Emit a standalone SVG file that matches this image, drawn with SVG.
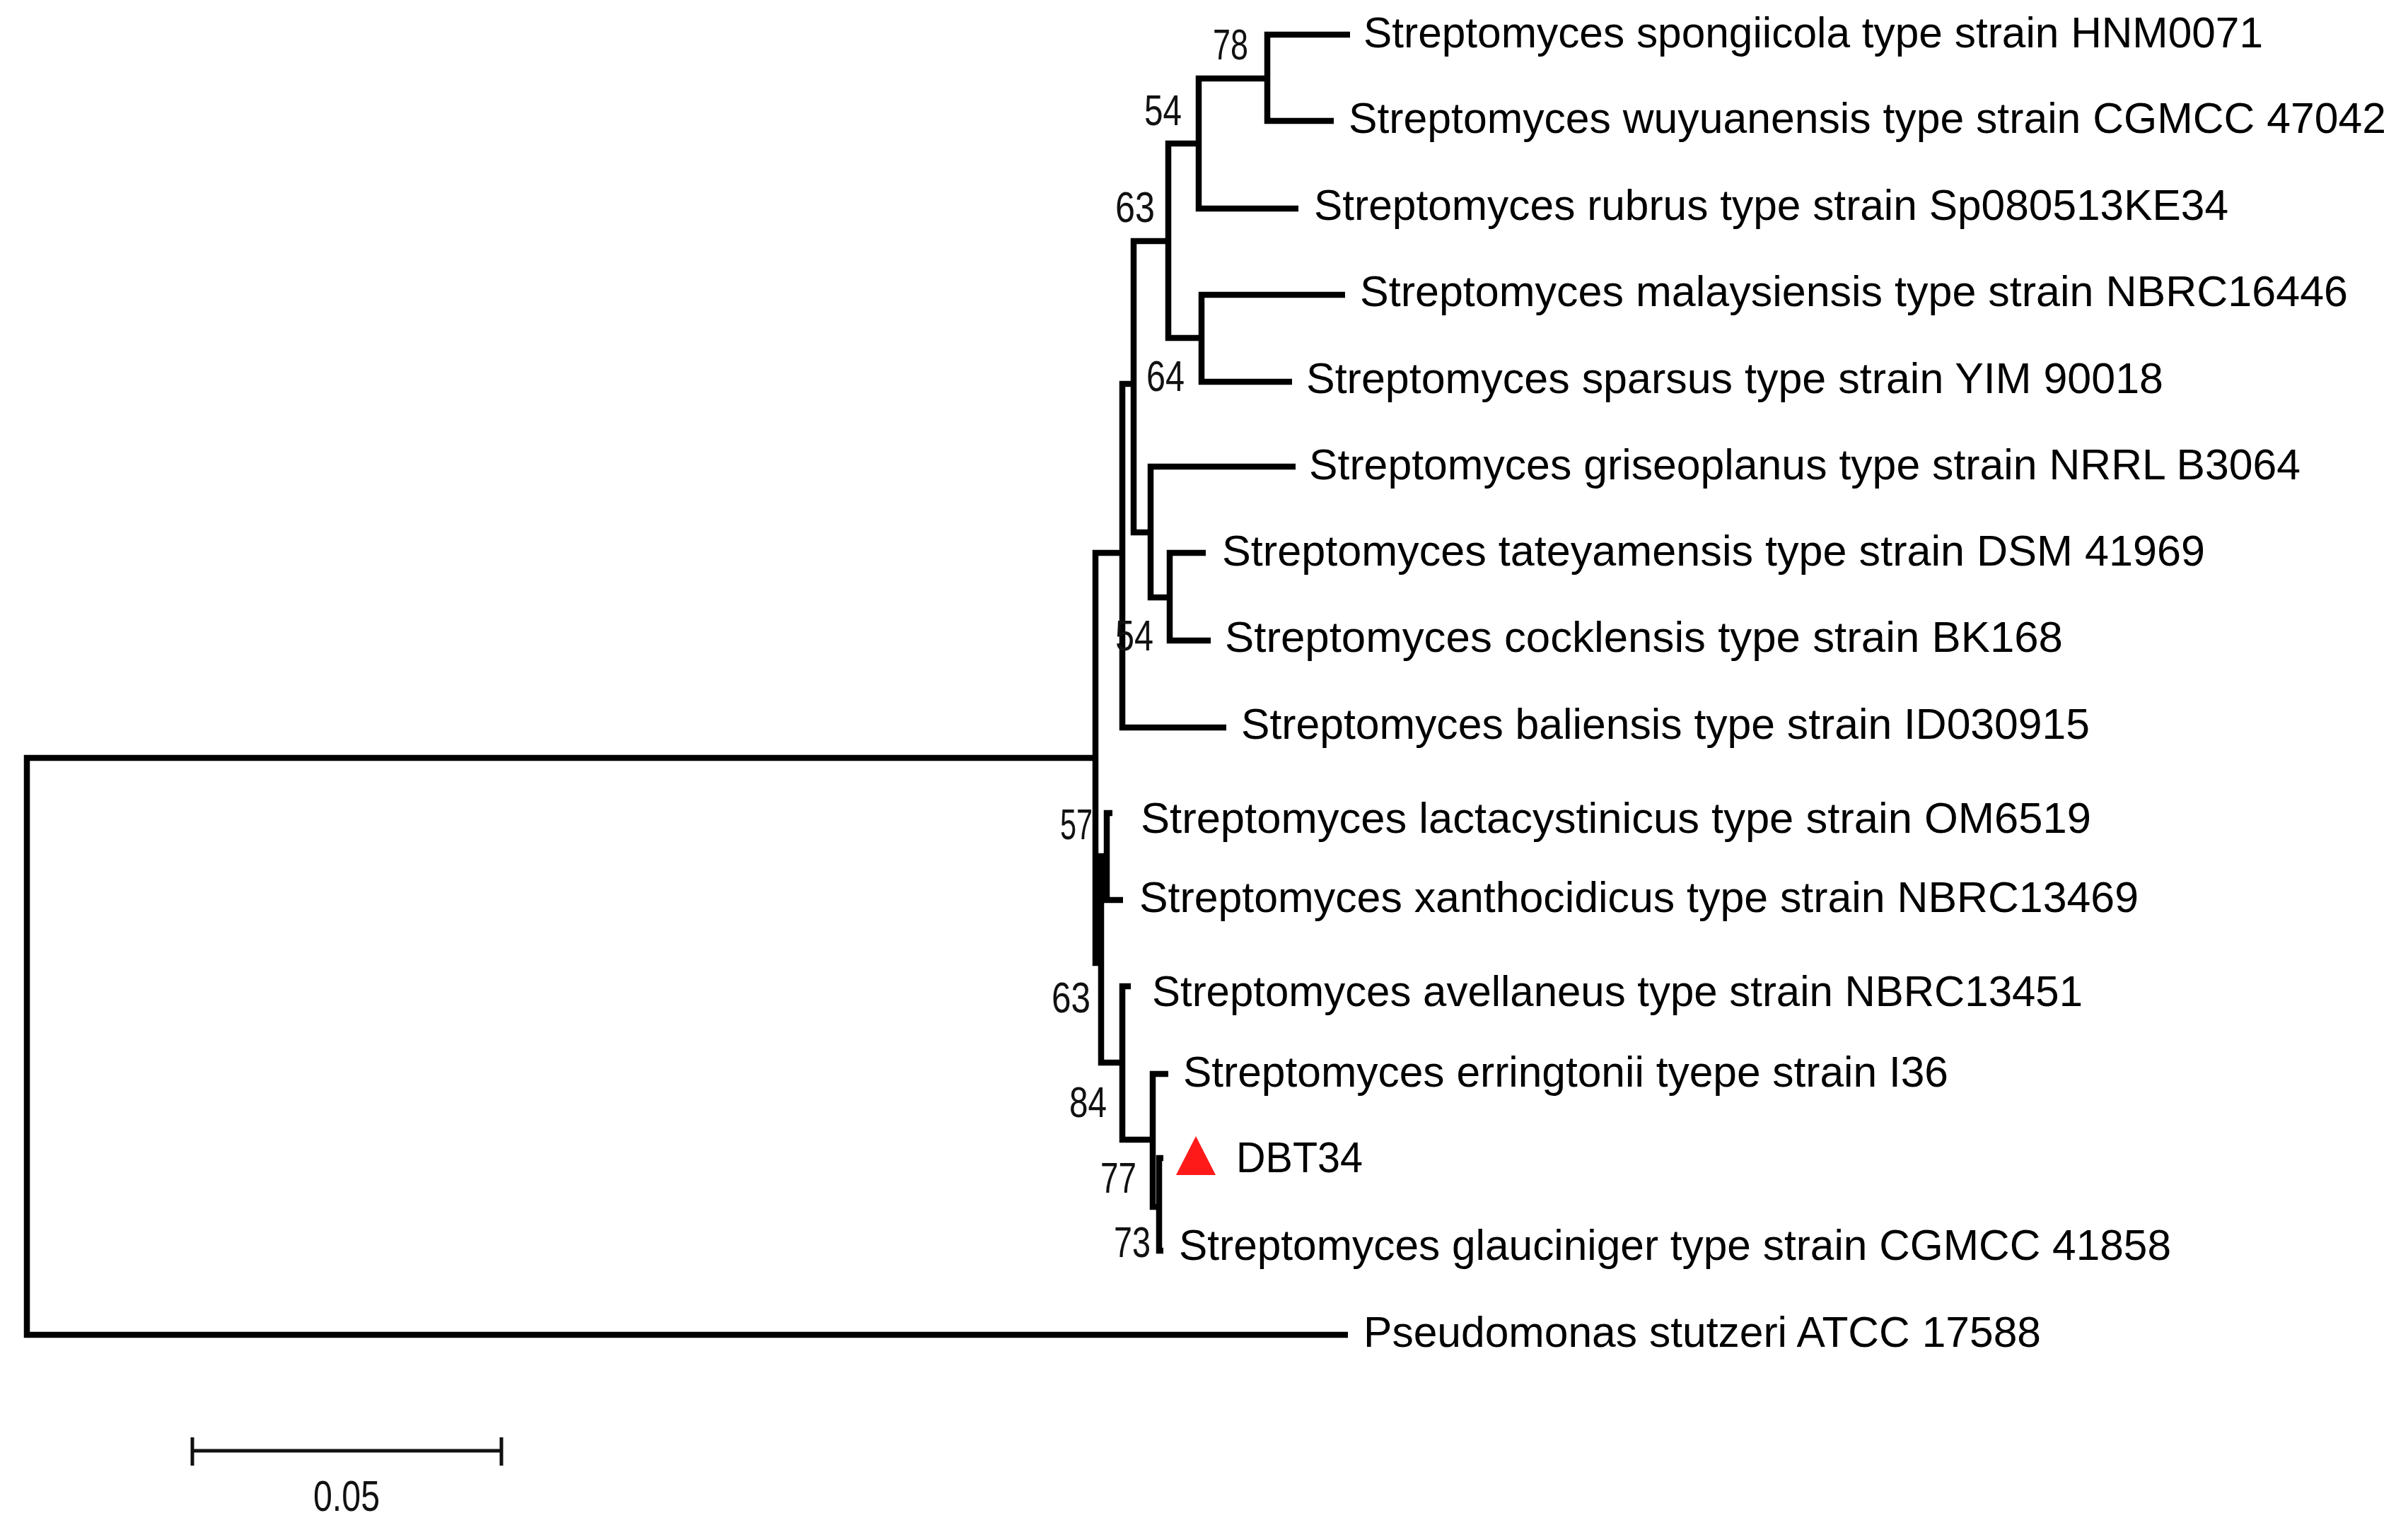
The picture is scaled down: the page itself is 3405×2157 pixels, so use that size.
<svg xmlns="http://www.w3.org/2000/svg" width="3405" height="2157" viewBox="0 0 3405 2157">
<style>
.br{fill:none;stroke:#000;stroke-width:8.5;stroke-linejoin:miter;stroke-linecap:butt}
.sb{fill:none;stroke:#111;stroke-width:5}
.tx{font-family:"Liberation Sans",Arial,sans-serif;font-size:61px;fill:#000}
.bs{font-family:"Liberation Sans",Arial,sans-serif;font-size:62px;fill:#111}
</style>
<rect x="0" y="0" width="3405" height="2157" fill="#fff"/>
<g id="connectors">
<path class="br" d="M1549,1072 H38 V1888 H1906"/>
<path class="br" d="M1587,782 H1549 V1362 H1557"/>
<path class="br" d="M1603,543 H1587 V1029 H1734"/>
<path class="br" d="M1652,341 H1603 V753 H1627"/>
<path class="br" d="M1695,203 H1652 V478 H1699"/>
<path class="br" d="M1792,111 H1695 V295 H1836"/>
<path class="br" d="M1909,49 H1792 V171 H1886"/>
<path class="br" d="M1902,417 H1699 V540 H1827"/>
<path class="br" d="M1832,660 H1627 V845 H1654"/>
<path class="br" d="M1705,782 H1654 V906 H1712"/>
<path class="br" d="M1565,1211 H1557 V1503 H1587"/>
<path class="br" d="M1573,1150 H1565 V1273 H1588"/>
<path class="br" d="M1599,1395 H1587 V1612 H1630"/>
<path class="br" d="M1652,1519 H1630 V1707 H1639"/>
<path class="br" d="M1645,1638 H1639 V1769 H1645"/>
</g>
<g id="bootstrap">
<text class="bs" x="1715" y="84" textLength="50" lengthAdjust="spacingAndGlyphs">78</text>
<text class="bs" x="1618" y="177" textLength="53" lengthAdjust="spacingAndGlyphs">54</text>
<text class="bs" x="1577" y="314" textLength="56" lengthAdjust="spacingAndGlyphs">63</text>
<text class="bs" x="1621" y="553" textLength="54" lengthAdjust="spacingAndGlyphs">64</text>
<text class="bs" x="1577" y="920" textLength="54" lengthAdjust="spacingAndGlyphs">54</text>
<text class="bs" x="1499" y="1187" textLength="46" lengthAdjust="spacingAndGlyphs">57</text>
<text class="bs" x="1487" y="1432" textLength="55" lengthAdjust="spacingAndGlyphs">63</text>
<text class="bs" x="1512" y="1580" textLength="53" lengthAdjust="spacingAndGlyphs">84</text>
<text class="bs" x="1556" y="1687" textLength="51" lengthAdjust="spacingAndGlyphs">77</text>
<text class="bs" x="1575" y="1778" textLength="52" lengthAdjust="spacingAndGlyphs">73</text>
</g>
<g id="taxon-spongiicola"><text class="tx" x="1928" y="67" textLength="1272" lengthAdjust="spacingAndGlyphs">Streptomyces spongiicola type strain HNM0071</text></g>
<g id="taxon-wuyuanensis"><text class="tx" x="1907" y="188" textLength="1467" lengthAdjust="spacingAndGlyphs">Streptomyces wuyuanensis type strain CGMCC 47042</text></g>
<g id="taxon-rubrus"><text class="tx" x="1858" y="311" textLength="1293" lengthAdjust="spacingAndGlyphs">Streptomyces rubrus type strain Sp080513KE34</text></g>
<g id="taxon-malaysiensis"><text class="tx" x="1923" y="433" textLength="1397" lengthAdjust="spacingAndGlyphs">Streptomyces malaysiensis type strain NBRC16446</text></g>
<g id="taxon-sparsus"><text class="tx" x="1847" y="556" textLength="1212" lengthAdjust="spacingAndGlyphs">Streptomyces sparsus type strain YIM 90018</text></g>
<g id="taxon-griseoplanus"><text class="tx" x="1851" y="678" textLength="1402" lengthAdjust="spacingAndGlyphs">Streptomyces griseoplanus type strain NRRL B3064</text></g>
<g id="taxon-tateyamensis"><text class="tx" x="1728" y="800" textLength="1390" lengthAdjust="spacingAndGlyphs">Streptomyces tateyamensis type strain DSM 41969</text></g>
<g id="taxon-cocklensis"><text class="tx" x="1732" y="922" textLength="1185" lengthAdjust="spacingAndGlyphs">Streptomyces cocklensis type strain BK168</text></g>
<g id="taxon-baliensis"><text class="tx" x="1755" y="1045" textLength="1200" lengthAdjust="spacingAndGlyphs">Streptomyces baliensis type strain ID030915</text></g>
<g id="taxon-lactacystinicus"><text class="tx" x="1613" y="1178" textLength="1344" lengthAdjust="spacingAndGlyphs">Streptomyces lactacystinicus type strain OM6519</text></g>
<g id="taxon-xanthocidicus"><text class="tx" x="1611" y="1290" textLength="1413" lengthAdjust="spacingAndGlyphs">Streptomyces xanthocidicus type strain NBRC13469</text></g>
<g id="taxon-avellaneus"><text class="tx" x="1629" y="1423" textLength="1316" lengthAdjust="spacingAndGlyphs">Streptomyces avellaneus type strain NBRC13451</text></g>
<g id="taxon-erringtonii"><text class="tx" x="1673" y="1537" textLength="1082" lengthAdjust="spacingAndGlyphs">Streptomyces erringtonii tyepe strain I36</text></g>
<g id="taxon-DBT34">
<polygon points="1691,1607 1719,1662 1663,1662" fill="#ff1a1a"/>
<text class="tx" x="1748" y="1658" textLength="179" lengthAdjust="spacingAndGlyphs">DBT34</text>
</g>
<g id="taxon-glauciniger"><text class="tx" x="1667" y="1782" textLength="1403" lengthAdjust="spacingAndGlyphs">Streptomyces glauciniger type strain CGMCC 41858</text></g>
<g id="taxon-pseudomonas"><text class="tx" x="1928" y="1905" textLength="958" lengthAdjust="spacingAndGlyphs">Pseudomonas stutzeri ATCC 17588</text></g>
<g id="scale-bar">
<path class="sb" d="M272,2052 H709 M272,2033 V2073 M709,2033 V2073"/>
<text class="bs" x="490" y="2137" text-anchor="middle" textLength="94" lengthAdjust="spacingAndGlyphs">0.05</text>
</g>
</svg>
